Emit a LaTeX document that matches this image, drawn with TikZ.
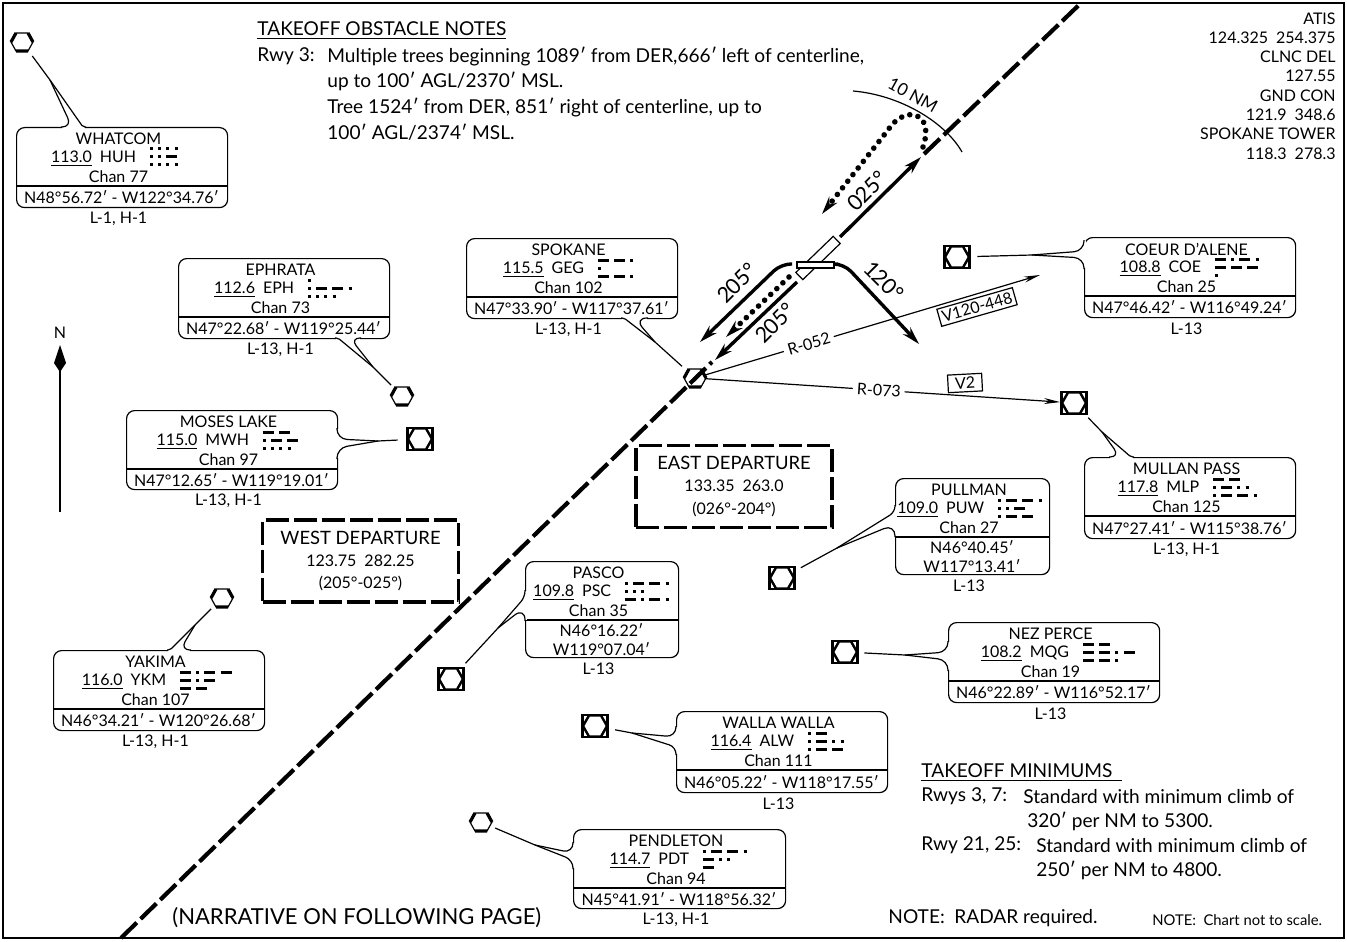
\documentclass[tikz,border=0pt]{standalone}
\usepackage{fontspec}
\usepackage{xcolor}
\setmainfont{Lato}
\usetikzlibrary{positioning,calc,arrows.meta}

\newcommand{\boxfont}{\fontsize{8}{9.6}\selectfont}
\newcommand{\notefont}{\fontsize{9.55}{12.7}\selectfont}
\newcommand{\headfont}{\fontsize{9.2}{12}\selectfont}
\newcommand{\rotfont}{\fontsize{10.8}{14}\selectfont}

\tikzset{
    thinline/.style={line width=0.6pt},
    stationbox/.style={draw, thinline, rounded corners=4pt, anchor=north west, inner sep=0pt},
    rowtext/.style={font=\boxfont, inner sep=0pt, yshift=-0.5pt},
    symbolspot/.style={circle, inner sep=0pt},
    morsebar/.style={line width=1.5pt},
    departbox/.style={draw, line width=1.7pt, dash pattern=on 11.5pt off 2.5pt, align=center, inner sep=0pt, minimum width=98pt, minimum height=41pt, font=\boxfont},
    heavyarrow/.style={line width=1.7pt, -{Stealth[length=9pt,width=5pt]}, rounded corners=5pt},
    dotarrow/.style={line width=2.8pt, line cap=round, dash pattern=on 0.01pt off 4.2pt, -{Stealth[length=9pt,width=5pt]}},
    airway/.style={thinline, -{Stealth[length=8pt,width=3pt]}},
    airwaytag/.style={draw, thinline, font=\boxfont, inner sep=1.5pt, fill=white},
    notetext/.style={font=\notefont, anchor=west, inner sep=0pt, yshift=-0.6pt},
    freqtext/.style={font=\boxfont, anchor=east, inner sep=0pt, yshift=-1pt},
    morse A/.style={dash pattern=on 1.5pt off 2.6pt on 5.5pt off 99pt},
    morse C/.style={dash pattern=on 5.5pt off 2.6pt on 1.5pt off 2.6pt on 5.5pt off 2.6pt on 1.5pt off 99pt},
    morse D/.style={dash pattern=on 5.5pt off 2.6pt on 1.5pt off 2.6pt on 1.5pt off 99pt},
    morse E/.style={dash pattern=on 1.5pt off 99pt},
    morse G/.style={dash pattern=on 5.5pt off 2.6pt on 5.5pt off 2.6pt on 1.5pt off 99pt},
    morse H/.style={dash pattern=on 1.5pt off 2.6pt on 1.5pt off 2.6pt on 1.5pt off 2.6pt on 1.5pt off 99pt},
    morse K/.style={dash pattern=on 5.5pt off 2.6pt on 1.5pt off 2.6pt on 5.5pt off 99pt},
    morse L/.style={dash pattern=on 1.5pt off 2.6pt on 5.5pt off 2.6pt on 1.5pt off 2.6pt on 1.5pt off 99pt},
    morse M/.style={dash pattern=on 5.5pt off 2.6pt on 5.5pt off 99pt},
    morse O/.style={dash pattern=on 5.5pt off 2.6pt on 5.5pt off 2.6pt on 5.5pt off 99pt},
    morse P/.style={dash pattern=on 1.5pt off 2.6pt on 5.5pt off 2.6pt on 5.5pt off 2.6pt on 1.5pt off 99pt},
    morse Q/.style={dash pattern=on 5.5pt off 2.6pt on 5.5pt off 2.6pt on 1.5pt off 2.6pt on 5.5pt off 99pt},
    morse S/.style={dash pattern=on 1.5pt off 2.6pt on 1.5pt off 2.6pt on 1.5pt off 99pt},
    morse T/.style={dash pattern=on 5.5pt off 99pt},
    morse U/.style={dash pattern=on 1.5pt off 2.6pt on 1.5pt off 2.6pt on 5.5pt off 99pt},
    morse W/.style={dash pattern=on 1.5pt off 2.6pt on 5.5pt off 2.6pt on 5.5pt off 99pt},
    morse Y/.style={dash pattern=on 5.5pt off 2.6pt on 1.5pt off 2.6pt on 5.5pt off 2.6pt on 5.5pt off 99pt},
    vortac/.pic={
        \draw[thinline, fill=white] (-11,0) -- (-6,-9) -- (6,-9) -- (11,0) -- (6,9) -- (-6,9) -- cycle;
        \draw[line width=1.6pt] (-11,0) -- (-6,-9) (6,-9) -- (11,0) (-6,9) -- (6,9);
    },
    vordme/.pic={
        \draw[line width=1.2pt, fill=white] (-12.5,-11) rectangle (12.5,11);
        \draw[line width=1.2pt] (-12,0) -- (-6,-10.5) -- (6,-10.5) -- (12,0) -- (6,10.5) -- (-6,10.5) -- cycle;
    }
}

\begin{document}
\begin{tikzpicture}[x=0.5pt, y=-0.5pt]
    \useasboundingbox (0,0) rectangle (1347,941);

    % Frame
    \draw[line width=1.2pt] (3,3) rectangle (1344,938);

    % Hub symbol goes under the course line
    \pic at (695,378) {vortac};

    % Course line
    \coordinate (linesw) at (121,938);
    \coordinate (linene) at (1081,3);
    \coordinate (linemid) at (712,362);
    \coordinate (linetop) at (924,154);
    \draw[line width=2.1pt, dash pattern=on 11pt off 2.7pt] (linesw) -- (linemid);
    \draw[line width=2.1pt, dash pattern=on 11pt off 2.7pt] (linetop) -- (linene);

    % Stations
    \foreach \sn/\bl/\bt/\bw/\bh/\nm/\fq/\cid/\mx/\ma/\mb/\mc/\ch/\crd/\chrt in {
        huh/16/127/211/80/WHATCOM/113.0/HUH/150/H/U/H/77/{N48°56.72′ - W122°34.76′}/{L-1, H-1},
        eph/178/258/211/80/EPHRATA/112.6/EPH/308/E/P/H/73/{N47°22.68′ - W119°25.44′}/{L-13, H-1},
        mwh/126/410/211/79/MOSES LAKE/115.0/MWH/263/M/W/H/97/{N47°12.65′ - W119°19.01′}/{L-13, H-1},
        ykm/53/650/211/80/YAKIMA/116.0/YKM/180/Y/K/M/107/{N46°34.21′ - W120°26.68′}/{L-13, H-1},
        geg/466/238/211/80/SPOKANE/115.5/GEG/598/G/E/G/102/{N47°33.90′ - W117°37.61′}/{L-13, H-1},
        coe/1084/237/211/80/COEUR D’ALENE/108.8/COE/1215/C/O/E/25/{N47°46.42′ - W116°49.24′}/L-13,
        mlp/1084/457/211/81/MULLAN PASS/117.8/MLP/1213/M/L/P/125/{N47°27.41′ - W115°38.76′}/{L-13, H-1},
        puw/895/478/154/96/PULLMAN/109.0/PUW/998/P/U/W/27/{N46°40.45′\\W117°13.41′}/L-13,
        psc/525/561/153/96/PASCO/109.8/PSC/625/P/S/C/35/{N46°16.22′\\W119°07.04′}/L-13,
        mqg/948/622/211/80/NEZ PERCE/108.2/MQG/1083/M/Q/G/19/{N46°22.89′ - W116°52.17′}/L-13,
        alw/676/711/211/81/WALLA WALLA/116.4/ALW/808/A/L/W/111/{N46°05.22′ - W118°17.55′}/L-13,
        pdt/573/829/212/79/PENDLETON/114.7/PDT/703/P/D/T/94/{N45°41.91′ - W118°56.32′}/{L-13, H-1}
    } {
        \node[stationbox, minimum width=\bw*0.5pt, minimum height=\bh*0.5pt] (\sn box) at (\bl,\bt) {};
        \draw[thinline] (\bl,\bt+59) -- (\bl+\bw,\bt+59);
        \node[rowtext] (\sn name) at (\bl+\bw/2-3,\bt+11) {\nm};
        \node[freqtext] (\sn freq) at (\mx-13.5,\bt+30) {\underline{\fq}\enspace\cid};
        \node[rowtext] (\sn chan) at (\bl+\bw/2-3,\bt+49) {Chan \ch};
        \node[rowtext, align=center] (\sn pos) at (\bl+\bw/2,\bt+29.5+\bh/2) {\crd};
        \node[rowtext] (\sn chart) at (\bl+\bw/2-3,\bt+\bh+11) {\chrt};
        \draw[morsebar, morse \ma] (\mx,\bt+22) -- ++(70,0);
        \draw[morsebar, morse \mb] (\mx,\bt+30) -- ++(70,0);
        \draw[morsebar, morse \mc] (\mx,\bt+38) -- ++(70,0);
    }

    % Leaders
    \foreach \sn/\sx/\sy/\sr/\mgx/\mgy/\ax/\ay/\cx/\cy/\ra/\rb in {
        huh/22/42/17/50/80/72/127/83/127/5/1,
        eph/402/396/15/373/367/350/338/338/338/5/1,
        mwh/420/439/22/378/441/337/439/337/448/5/5,
        ykm/222/598/15/195/625/180/650/170/650/5/1,
        geg/695/378/17/655/342/634/318/624/318/6.5/1,
        coe/957/257/20/1032/255/1084/251/1084/258/5/5,
        mlp/1074/403/20/1102/432/1120/457/1131/457/5/1,
        puw/782/578/21/837/548/895/512/895/524/3/6,
        psc/451/679/21/498/628/525/597/525/607/3/6.5,
        mqg/845/652/19/905/655/948/652/948/660/5/5,
        alw/595/726/20/632/733/676/737/676/747/5/3.5,
        pdt/481/822/15/535/845/573/853/573/860/5/4
    } {
        \node[symbolspot, minimum size=\sr*1pt] (\sn sym) at (\sx,\sy) {};
        \coordinate (\sn merge) at (\mgx,\mgy);
        \coordinate (\sn a) at (\ax,\ay);
        \coordinate (\sn b) at (\cx,\cy);
        \draw[white, line width=1.6pt] ($(\sn a)!-\ra pt!(\sn b)$) -- ($(\sn b)!-\rb pt!(\sn a)$);
        \draw[thinline] (\sn sym) -- (\sn merge);
        \draw[thinline, rounded corners=\ra pt] ($(\sn a)!-\ra pt-0.5pt!(\sn b)$) -- (\sn a) -- (\sn merge);
        \draw[thinline, rounded corners=\rb pt] ($(\sn b)!-\rb pt-0.5pt!(\sn a)$) -- (\sn b) -- (\sn merge);
    }

    % Airways
    \coordinate (coearrow) at (1040,275);
    \draw[airway, shorten <=5pt] (gegsym.center) -- (coearrow)
        node[pos=0.33, sloped, fill=white, font=\boxfont, inner sep=2pt] (r052) {R-052};
    \draw[airway, shorten <=5pt, shorten >=7pt] (gegsym.center) -- (mlpsym.center)
        node[pos=0.485, sloped, fill=white, font=\boxfont, inner sep=2pt] (r073) {R-073};
    \node[airwaytag, rotate=16] (v120) at (977,307) {V120-448};
    \node[airwaytag, rotate=3, inner xsep=3.5pt] (v2) at (965,383) {V2};

    % Symbols
    \foreach \sx/\sy in {22/42, 402/396, 222/598, 481/822}
        \pic at (\sx,\sy) {vortac};
    \foreach \sx/\sy in {420/439, 957/257, 1074/403, 782/578, 451/679, 845/652, 595/726}
        \pic at (\sx,\sy) {vordme};

    % Departure tracks
    \coordinate (climbstart) at (840,237);
    \coordinate (climbend) at (921,157);
    \draw[heavyarrow] (climbstart) -- (climbend);
    \draw[dotarrow] (923,147) .. controls (935,112) and (905,104) .. (888,130) -- (822,214);
    \draw[heavyarrow] (792,264) -- (781,264) -- (700,342);
    \draw[dotarrow] (789,277) -- (726,337);
    \draw[heavyarrow] (797,282) -- (715,360);
    \draw[heavyarrow] (838,264) -- (844,264) -- (919,344);
    \node[font=\rotfont, rotate=45, inner sep=0pt] (out025) at (867,191) {025°};
    \node[font=\rotfont, rotate=45, inner sep=0pt] (west205) at (737,283) {205°};
    \node[font=\rotfont, rotate=45, inner sep=0pt] (south205) at (775,323) {205°};
    \node[font=\rotfont, rotate=-45, inner sep=0pt] (east120) at (884,281) {120°};

    % Airport
    \draw[thinline, fill=white, rotate around={44:(818,258)}] (792,253) rectangle (844,263);
    \draw[thinline, fill=white] (797,262) rectangle (834,268);

    % 10 NM arc
    \draw[thinline] (853,91) .. controls (900,95) and (945,122) .. (962,152);
    \node[font=\fontsize{8.6}{10}\selectfont, rotate=-29, inner sep=0pt] (arclabel) at (913,95) {10 NM};

    % North arrow
    \coordinate (northtail) at (60,512);
    \coordinate (northhead) at (60,360);
    \draw[thinline] (northtail) -- (northhead);
    \fill (60,345) -- (66,363) -- (60,372) -- (54,363) -- cycle;
    \node[font=\boxfont, inner sep=0pt] (north) at (60,333) {N};

    % Departure boxes
    \node[departbox] (west) at (360.5,561) {{\headfont WEST DEPARTURE}\\[1.5pt]123.75\enspace 282.25\\[1.5pt](205°-025°)};
    \node[departbox] (east) at (734,486.5) {{\headfont EAST DEPARTURE}\\[1.5pt]133.35\enspace 263.0\\[1.5pt](026°-204°)};

    % Notes
    \node[notetext] (obshead) at (257,29) {\underline{TAKEOFF OBSTACLE NOTES}};
    \node[notetext] (obsrwy) at (257,55) {Rwy 3:};
    \foreach \y/\t in {55/{Multiple trees beginning 1089′ from DER,666′ left of centerline,},
        80/{up to 100′ AGL/2370′ MSL.}, 106/{Tree 1524′ from DER, 851′ right of centerline, up to},
        131/{100′ AGL/2374′ MSL.}}
        \node[notetext] at (327,\y) {\t};

    \node[notetext] (minhead) at (921,771) {\underline{TAKEOFF MINIMUMS\enspace}};
    \foreach \x/\y/\t in {921/795/{Rwys 3, 7:}, 1023/795/{Standard with minimum climb of},
        1027/820/{320′ per NM to 5300.}, 921/844/{Rwy 21, 25:},
        1036/844/{Standard with minimum climb of}, 1036/869/{250′ per NM to 4800.}}
        \node[notetext] at (\x,\y) {\t};

    % Frequencies
    \foreach \y/\t in {18/ATIS, 37/124.325\enspace 254.375, 56/CLNC DEL, 75/127.55, 95/GND CON,
        114/121.9\enspace 348.6, 133/SPOKANE TOWER, 153/118.3\enspace 278.3}
        \node[rowtext, anchor=east] at (1336,\y) {\t};

    % Footer
    \node[notetext, font=\fontsize{11}{13}\selectfont] (narrative) at (172,916) {(NARRATIVE ON FOLLOWING PAGE)};
    \node[notetext] (radar) at (888,917) {NOTE:\enspace RADAR required.};
    \node[notetext, font=\fontsize{7.4}{9}\selectfont] (scale) at (1152,919) {NOTE:\enspace Chart not to scale.};
\end{tikzpicture}
\end{document}
